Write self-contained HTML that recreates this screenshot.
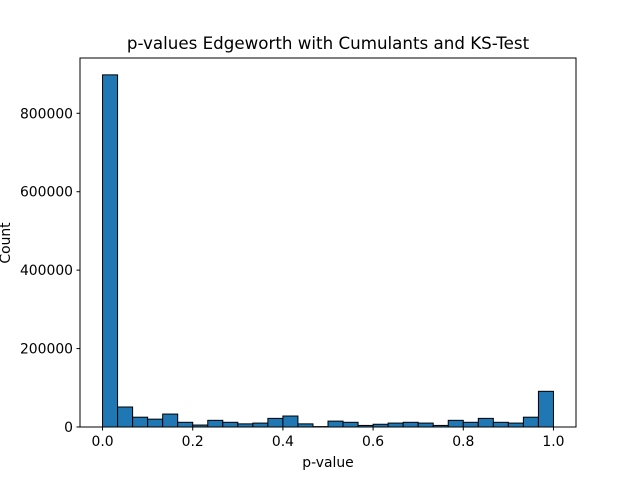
<!DOCTYPE html>
<html><head><meta charset="utf-8"><style>
body{margin:0;background:#fff;}
svg text{font-family:"DejaVu Sans","Liberation Sans",sans-serif;fill:#000;}
</style></head><body>
<svg id="chart" width="640" height="480" viewBox="0 0 640 480">
<rect x="0" y="0" width="640" height="480" fill="#fff"/>
<text x="328" y="49" font-size="16.7" text-anchor="middle">p-values Edgeworth with Cumulants and KS-Test</text>
<g id="bars"></g>
<g id="axes"></g>
<rect x="80" y="58" width="496" height="369" fill="none" stroke="#000" stroke-width="1"/>
<text x="328" y="467" font-size="13.9" text-anchor="middle">p-value</text>
<text x="0" y="0" font-size="13.9" text-anchor="middle" transform="translate(10,243) rotate(-90)">Count</text>
</svg>
<script>
const counts = [898000,51000,25000,20000,33000,12000,5000,17000,12000,8000,10000,22000,28000,8000,1000,15000,12000,4000,7000,10000,12000,10000,4000,17000,12000,22000,12000,10000,25000,91000];
const xTicks = [0.0,0.2,0.4,0.6,0.8,1.0];
const xTickLabels = ["0.0","0.2","0.4","0.6","0.8","1.0"];
const yTicks = [0,200000,400000,600000,800000];
const yTickLabels = ["0","200000","400000","600000","800000"];
const NS="http://www.w3.org/2000/svg";
const L=80,R=576,T=58,B=427;
const xmin=-0.05,xmax=1.05,ymin=0,ymax=941000;
const sx=v=>L+(v-xmin)/(xmax-xmin)*(R-L);
const sy=v=>B-(v-ymin)/(ymax-ymin)*(B-T);
const bars=document.getElementById('bars');
const n=counts.length;
counts.forEach((c,i)=>{
  const r=document.createElementNS(NS,'rect');
  const x0=sx(i/n),x1=sx((i+1)/n);
  r.setAttribute('x',x0);r.setAttribute('width',x1-x0);
  r.setAttribute('y',sy(c));r.setAttribute('height',sy(0)-sy(c));
  r.setAttribute('fill','#1f77b4');r.setAttribute('stroke','#000');r.setAttribute('stroke-width','1');
  
  
  bars.appendChild(r);
});
const ax=document.getElementById('axes');
xTicks.forEach((t,i)=>{
  const x=sx(t);
  const l=document.createElementNS(NS,'line');
  l.setAttribute('x1',x);l.setAttribute('x2',x);l.setAttribute('y1',B);l.setAttribute('y2',B+3.5);l.setAttribute('stroke','#000');
  
  
  ax.appendChild(l);
  const tx=document.createElementNS(NS,'text');
  tx.setAttribute('x',x);tx.setAttribute('y',B+19);tx.setAttribute('font-size','13.9');tx.setAttribute('text-anchor','middle');
  tx.textContent=xTickLabels[i];
  
  
  ax.appendChild(tx);
});
yTicks.forEach((t,i)=>{
  const y=sy(t);
  const l=document.createElementNS(NS,'line');
  l.setAttribute('x1',L-3.5);l.setAttribute('x2',L);l.setAttribute('y1',y);l.setAttribute('y2',y);l.setAttribute('stroke','#000');
  
  
  ax.appendChild(l);
  const tx=document.createElementNS(NS,'text');
  tx.setAttribute('x',L-7);tx.setAttribute('y',y+5);tx.setAttribute('font-size','13.9');tx.setAttribute('text-anchor','end');
  tx.textContent=yTickLabels[i];
  
  
  ax.appendChild(tx);
});
</script>
</body></html>
